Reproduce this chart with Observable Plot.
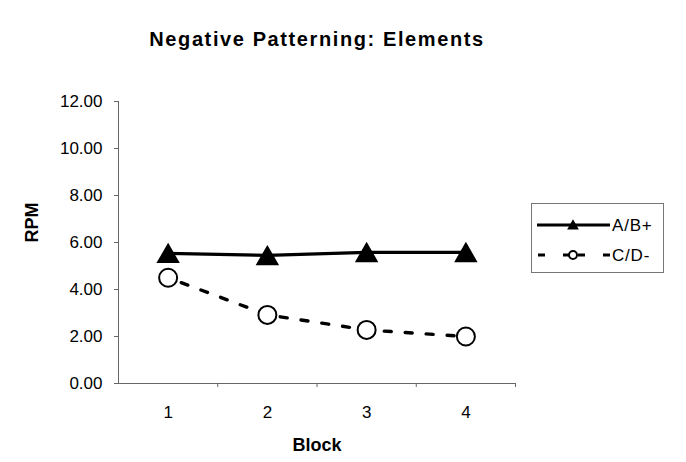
<!DOCTYPE html>
<html>
<head>
<meta charset="utf-8">
<script src="https://cdn.jsdelivr.net/npm/d3@7"></script>
<script src="https://cdn.jsdelivr.net/npm/@observablehq/plot@0.6"></script>
<style>
  html, body { margin: 0; padding: 0; background: #fff; }
  #wrap { position: relative; width: 686px; height: 462px; overflow: hidden; font-family: "Liberation Sans", Arial, sans-serif; }
  #legend { position: absolute; left: 531px; top: 203px; }
</style>
</head>
<body>
<div id="wrap"></div>
<script>
// ---- data ----
const chartTitle = "Negative Patterning: Elements";
const xLabel = "Block";
const yLabel = "RPM";
const blocks = [1, 2, 3, 4];
const abPlus = [5.54, 5.45, 5.58, 5.58];
const cdMinus = [4.50, 2.92, 2.28, 2.00];
const yTicks = [0, 2, 4, 6, 8, 10, 12];
const seriesNames = ["A/B+", "C/D-"];

const abData = blocks.map((b, i) => ({block: b, value: abPlus[i]}));
const cdData = blocks.map((b, i) => ({block: b, value: cdMinus[i]}));
const axisGray = "#666";

const chart = Plot.plot({
  width: 686,
  height: 462,
  marginLeft: 118,
  marginRight: 171,
  marginTop: 101,
  marginBottom: 79,
  style: {fontFamily: "'Liberation Sans', Arial, sans-serif", background: "#fff", color: "#000"},
  x: {domain: [blocks[0] - 0.5, blocks[blocks.length - 1] + 0.5], axis: null},
  y: {domain: [yTicks[0], yTicks[yTicks.length - 1]], axis: null},
  marks: [
    Plot.ruleX([blocks[0] - 0.5], {stroke: axisGray, strokeWidth: 1}),
    Plot.ruleY([yTicks[0]], {stroke: axisGray, strokeWidth: 1}),
    Plot.axisY({ticks: yTicks, tickFormat: d => d.toFixed(2), tickSize: 4, tickPadding: 12, fontSize: 17, stroke: axisGray, fill: "#000", label: null}),
    Plot.axisX({ticks: blocks, tickFormat: d => String(d), tickSize: 0, tickPadding: 22, fontSize: 17, fill: "#000", label: null}),
    Plot.axisX({ticks: blocks.map(b => b + 0.5), tickSize: 4, tickFormat: () => "", stroke: axisGray, label: null}),
    Plot.line(cdData, {x: "block", y: "value", stroke: "#000", strokeWidth: 3.4, strokeDasharray: "7,14", strokeDashoffset: -14}),
    Plot.line(abData, {x: "block", y: "value", stroke: "#000", strokeWidth: 3.2}),
    Plot.dot(abData, {x: "block", y: "value", symbol: "triangle", r: 8.7, fill: "#000", stroke: "none", dy: 3}),
    Plot.dot(cdData, {x: "block", y: "value", symbol: "circle", r: 9, fill: "#fff", stroke: "#000", strokeWidth: 2}),
    Plot.text([chartTitle], {frameAnchor: "top", dy: -70, fontSize: 20, fontWeight: "bold", fill: "#000"}),
    Plot.text([yLabel], {frameAnchor: "left", dx: -86, rotate: -90, fontSize: 18, fontWeight: "bold", fill: "#000"}),
    Plot.text([xLabel], {frameAnchor: "bottom", dy: 67, fontSize: 18, fontWeight: "bold", fill: "#000"})
  ]
});
chart.querySelectorAll("text").forEach(t => {
  if (t.textContent === chartTitle) t.setAttribute("letter-spacing", "1.6");
});
document.getElementById("wrap").appendChild(chart);

// ---- legend ----
const lg = d3.select("#wrap").append("svg")
  .attr("id", "legend").attr("width", 134).attr("height", 71)
  .style("font-family", "'Liberation Sans', Arial, sans-serif");
lg.append("rect").attr("x", 0.5).attr("y", 0.5).attr("width", 132).attr("height", 69)
  .attr("fill", "#fff").attr("stroke", "#777").attr("stroke-width", 1);
const rowY = [22, 52];
// row 1: solid line with triangle
lg.append("line").attr("x1", 6).attr("x2", 79).attr("y1", rowY[0]).attr("y2", rowY[0])
  .attr("stroke", "#000").attr("stroke-width", 3);
lg.append("path").attr("d", d3.symbol(d3.symbolTriangle, 60)())
  .attr("transform", `translate(42,${rowY[0] + 1})`).attr("fill", "#000");
// row 2: dashed line with open circle
lg.append("line").attr("x1", 7).attr("x2", 38).attr("y1", rowY[1]).attr("y2", rowY[1])
  .attr("stroke", "#000").attr("stroke-width", 3).attr("stroke-dasharray", "7,18");
lg.append("line").attr("x1", 47).attr("x2", 79).attr("y1", rowY[1]).attr("y2", rowY[1])
  .attr("stroke", "#000").attr("stroke-width", 3).attr("stroke-dasharray", "7,18");
lg.append("circle").attr("cx", 42).attr("cy", rowY[1]).attr("r", 4)
  .attr("fill", "#fff").attr("stroke", "#000").attr("stroke-width", 2);
lg.selectAll("text.lab").data(seriesNames).join("text")
  .attr("class", "lab")
  .attr("x", 81).attr("y", (d, i) => rowY[i]).attr("dy", "0.35em")
  .attr("font-size", 17).attr("letter-spacing", 0.8).attr("fill", "#000")
  .text(d => d);
</script>
</body>
</html>
